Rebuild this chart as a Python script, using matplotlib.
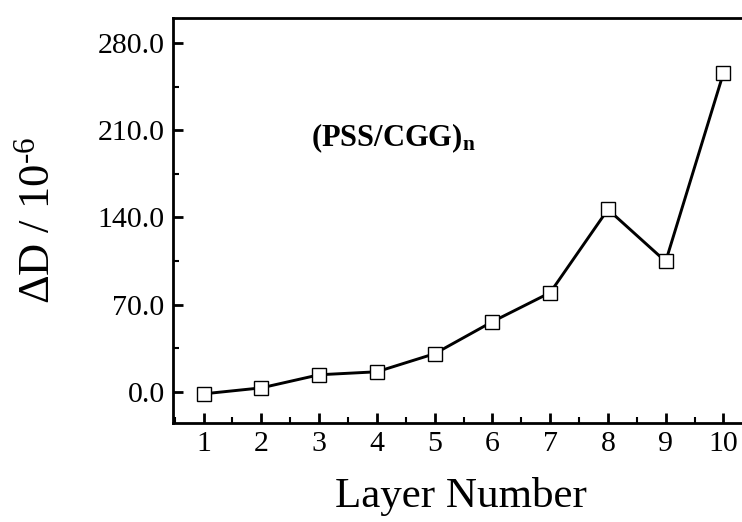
import matplotlib
matplotlib.use("Agg")
import matplotlib.pyplot as plt
from matplotlib.ticker import MultipleLocator, FormatStrFormatter

layers = [1, 2, 3, 4, 5, 6, 7, 8, 9, 10]
delta_d = [-1.6, 3.2, 13.7, 16.1, 30.6, 56.3, 79.6, 146.4, 104.6, 255.8]
y_ticks = [0.0, 70.0, 140.0, 210.0, 280.0]

plt.rcParams['font.family'] = ['Liberation Serif', 'DejaVu Serif']
plt.rcParams['mathtext.fontset'] = 'custom'
plt.rcParams['mathtext.rm'] = 'Liberation Serif'
plt.rcParams['mathtext.bf'] = 'Liberation Serif:bold'
plt.rcParams['mathtext.it'] = 'Liberation Serif:italic'

fig = plt.figure(figsize=(7.42, 5.22), dpi=100)
ax = fig.add_axes([173/742, 1-423/522, 1-173/742 + 0.01, (423-18)/522])

ax.plot(layers, delta_d, color='black', lw=2.1, marker='s', ms=10,
        mfc='white', mec='black', mew=1.0, zorder=3)

ax.set_xlim(0.47, 10.45)
ax.set_ylim(-25, 300)
ax.set_xticks(layers)
ax.set_yticks(y_ticks)
ax.xaxis.set_minor_locator(MultipleLocator(0.5))
ax.yaxis.set_minor_locator(MultipleLocator(35))
ax.yaxis.set_major_formatter(FormatStrFormatter('%.1f'))

for s in ['left', 'bottom', 'top']:
    ax.spines[s].set_linewidth(2.0)
ax.spines['right'].set_visible(False)

ax.tick_params(which='major', direction='in', length=7.2, width=2.0,
               labelsize=21.5, top=False, right=False, pad=6)
ax.tick_params(which='minor', direction='in', length=4.5, width=1.5,
               top=False, right=False)

ax.set_xlabel('Layer Number', fontsize=31, labelpad=14)
ax.set_ylabel(r'ΔD / 10$^{\text{-6}}$', fontsize=32, labelpad=28)

ax.text(0.24, 0.683, r'$\mathbf{(PSS/CGG)_n}$', transform=ax.transAxes,
        fontsize=22, ha='left', va='baseline')

fig.savefig('out.png', dpi=100)
